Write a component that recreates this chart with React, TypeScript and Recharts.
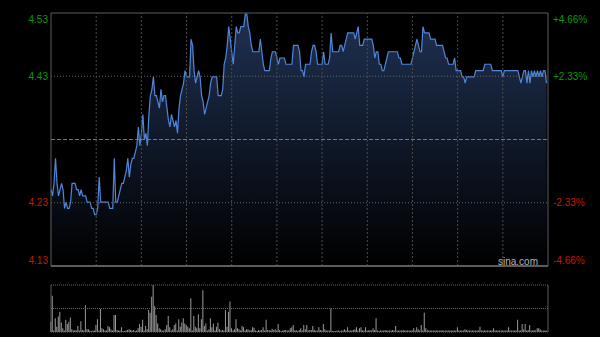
import React from "react";
import {
  ComposedChart,
  Area,
  Bar,
  XAxis,
  YAxis,
  ReferenceLine,
} from "recharts";

// previous close and the symmetric percent levels shown on the axes
const prevClose = 4.33;
const pctLevels = [-4.66, -2.33, 2.33, 4.66];
// half-hour grid (minutes from open, HK session 330 min)
const halfHourMarks = [30, 60, 90, 120, 150, 180, 210, 240, 270, 300];

const morningPrices = [
  4.25, 4.24, 4.26, 4.3, 4.26, 4.24, 4.25, 4.26, 4.25, 4.22,
  4.23, 4.22, 4.22, 4.23, 4.26, 4.26, 4.26, 4.25, 4.25, 4.24,
  4.25, 4.24, 4.24, 4.24, 4.23, 4.23, 4.23, 4.22, 4.22, 4.21,
  4.21, 4.22, 4.27, 4.23, 4.23, 4.23, 4.23, 4.23, 4.23, 4.22,
  4.22, 4.22, 4.3, 4.23, 4.23, 4.24, 4.25, 4.26, 4.26, 4.27,
  4.28, 4.3, 4.27, 4.29, 4.3, 4.3, 4.31, 4.32, 4.35, 4.32,
  4.34, 4.37, 4.33, 4.34, 4.32, 4.37, 4.4, 4.41, 4.43, 4.4,
  4.4, 4.39, 4.38, 4.41, 4.39, 4.4, 4.4, 4.38, 4.36, 4.35,
  4.37, 4.36, 4.35, 4.36, 4.34, 4.38, 4.4, 4.41, 4.42, 4.44,
  4.43, 4.43, 4.43, 4.49, 4.48, 4.44, 4.42, 4.43, 4.44, 4.43,
  4.4, 4.39, 4.37, 4.38, 4.39, 4.4, 4.42, 4.43, 4.43, 4.43,
  4.43, 4.4, 4.4, 4.4, 4.41, 4.45, 4.46, 4.48, 4.51, 4.49,
  4.47, 4.45, 4.48, 4.51, 4.5, 4.5, 4.51, 4.51, 4.51, 4.53,
  4.53, 4.51, 4.5, 4.48, 4.47, 4.47, 4.47, 4.47, 4.47, 4.49,
  4.47, 4.45, 4.44, 4.44, 4.44, 4.44, 4.46, 4.47, 4.47, 4.47,
];

const afternoonPrices = [
  4.46, 4.45, 4.46, 4.46, 4.46, 4.46, 4.45, 4.45, 4.45, 4.45,
  4.45, 4.48, 4.48, 4.48, 4.48, 4.47, 4.44, 4.44, 4.43, 4.45,
  4.45, 4.45, 4.45, 4.47, 4.48, 4.48, 4.47, 4.45, 4.45, 4.45,
  4.45, 4.47, 4.45, 4.45, 4.45, 4.46, 4.5, 4.47, 4.47, 4.47,
  4.47, 4.47, 4.48, 4.48, 4.47, 4.48, 4.49, 4.5, 4.5, 4.5,
  4.5, 4.5, 4.49, 4.5, 4.51, 4.48, 4.48, 4.48, 4.49, 4.49,
  4.49, 4.49, 4.49, 4.49, 4.48, 4.46, 4.47, 4.47, 4.45, 4.45,
  4.44, 4.44, 4.45, 4.46, 4.47, 4.47, 4.47, 4.47, 4.47, 4.47,
  4.47, 4.46, 4.46, 4.45, 4.45, 4.45, 4.45, 4.45, 4.45, 4.45,
  4.46, 4.47, 4.48, 4.49, 4.48, 4.47, 4.47, 4.51, 4.5, 4.5,
  4.5, 4.5, 4.49, 4.49, 4.49, 4.49, 4.48, 4.48, 4.48, 4.48,
  4.48, 4.47, 4.46, 4.46, 4.45, 4.45, 4.45, 4.45, 4.46, 4.44,
  4.44, 4.44, 4.44, 4.43, 4.43, 4.42, 4.43, 4.43, 4.43, 4.43,
  4.43, 4.43, 4.44, 4.44, 4.44, 4.44, 4.44, 4.44, 4.45, 4.45,
  4.45, 4.45, 4.45, 4.44, 4.44, 4.44, 4.44, 4.44, 4.44, 4.44,
  4.43, 4.44, 4.44, 4.44, 4.44, 4.44, 4.44, 4.44, 4.44, 4.44,
  4.44, 4.43, 4.42, 4.43, 4.44, 4.44, 4.42, 4.44, 4.42, 4.44,
  4.43, 4.44, 4.43, 4.44, 4.43, 4.44, 4.43, 4.44, 4.44, 4.42,
];

// volume in relative units (peak = 100)
const morningVolumes = [
  22, 77, 3, 29, 11, 33, 43, 20, 8, 3,
  26, 17, 22, 31, 6, 3, 4, 3, 13, 3,
  23, 4, 3, 57, 6, 6, 3, 2, 3, 3,
  15, 27, 3, 49, 8, 6, 3, 3, 13, 10,
  6, 3, 36, 36, 4, 3, 3, 10, 2, 2,
  3, 4, 6, 4, 3, 4, 2, 3, 8, 17,
  11, 26, 3, 13, 6, 47, 41, 75, 100, 55,
  36, 18, 8, 6, 3, 3, 6, 15, 34, 10,
  3, 6, 15, 18, 3, 27, 11, 20, 29, 18,
  15, 11, 8, 72, 3, 34, 11, 8, 38, 8,
  27, 89, 13, 18, 3, 6, 29, 10, 18, 3,
  11, 20, 6, 3, 4, 3, 47, 11, 43, 65,
  8, 3, 6, 27, 8, 6, 3, 13, 10, 3,
  6, 6, 3, 4, 10, 9, 3, 2, 4, 3,
  4, 10, 3, 26, 4, 4, 3, 7, 4, 6,
];

const afternoonVolumes = [
  3, 17, 4, 2, 3, 4, 4, 3, 3, 8,
  10, 15, 3, 4, 2, 4, 8, 3, 15, 6,
  15, 3, 4, 4, 13, 4, 3, 3, 10, 4,
  3, 17, 6, 3, 3, 3, 50, 2, 2, 2,
  3, 3, 2, 3, 3, 6, 3, 10, 3, 3,
  3, 4, 6, 10, 3, 8, 10, 3, 3, 10,
  3, 3, 4, 3, 8, 4, 29, 3, 2, 3,
  3, 3, 4, 3, 3, 3, 3, 4, 3, 13,
  3, 3, 3, 3, 4, 3, 3, 3, 3, 3,
  3, 8, 3, 10, 6, 3, 15, 3, 41, 8,
  4, 3, 3, 3, 3, 3, 3, 3, 3, 3,
  3, 3, 3, 3, 3, 3, 3, 3, 3, 3,
  10, 3, 3, 3, 3, 6, 4, 3, 3, 3,
  3, 3, 3, 3, 3, 11, 3, 3, 3, 3,
  3, 3, 3, 3, 8, 3, 3, 3, 3, 3,
  3, 3, 3, 3, 10, 3, 3, 3, 3, 3,
  26, 3, 3, 17, 6, 17, 3, 4, 15, 3,
  3, 4, 3, 8, 8, 6, 3, 3, 3, 3,
];

const prices = [...morningPrices, ...afternoonPrices];
const volumes = [...morningVolumes, ...afternoonVolumes];
const data = prices.map((price, i) => ({
  minute: i,
  price,
  volume: volumes[i],
}));

const SESSION = 330;
const maxPct = pctLevels[pctLevels.length - 1];
const yMin = prevClose * (1 - maxPct / 100);
const yMax = prevClose * (1 + maxPct / 100);
const levelTicks = pctLevels.map((p) => prevClose * (1 + p / 100));

const FONT = "Arial, 'Liberation Sans', sans-serif";
const UP = "#0a9a0a";
const DOWN = "#cc1500";
const GRID = "#4c4c4c";
const FRAME = "#5c5c5c";

function tickShift(pct: number) {
  if (pct > maxPct - 0.5) return 6;
  if (pct < -maxPct + 0.5) return -6;
  return 0;
}

function PriceTick(props: any) {
  const { x, y, payload } = props;
  const pct = (payload.value / prevClose - 1) * 100;
  return (
    <text
      x={x}
      y={y + tickShift(pct)}
      textAnchor="end"
      dominantBaseline="central"
      fill={pct > 0 ? UP : DOWN}
      fontSize={10}
      fontFamily={FONT}
    >
      {payload.value.toFixed(2)}
    </text>
  );
}

function PctTick(props: any) {
  const { x, y, payload } = props;
  const pct = (payload.value / prevClose - 1) * 100;
  return (
    <text
      x={x}
      y={y + tickShift(pct)}
      textAnchor="start"
      dominantBaseline="central"
      fill={pct > 0 ? UP : DOWN}
      fontSize={10}
      fontFamily={FONT}
    >
      {(pct > 0 ? "+" : "") + pct.toFixed(2) + "%"}
    </text>
  );
}

export default function App() {
  return (
    <div
      style={{
        position: "absolute",
        left: 0,
        top: 0,
        width: 600,
        height: 337,
        background: "#000",
        overflow: "hidden",
      }}
    >
      <ComposedChart
        width={600}
        height={280}
        data={data}
        margin={{ top: 13, right: 0, bottom: 14, left: 0 }}
      >
        <defs>
          <linearGradient id="priceFill" x1="0" y1="0" x2="0" y2="1">
            <stop offset="0%" stopColor="#1f3152" />
            <stop offset="100%" stopColor="#000000" />
          </linearGradient>
        </defs>
        <XAxis dataKey="minute" type="number" domain={[0, SESSION]} hide />
        <YAxis
          yAxisId="price"
          domain={[yMin, yMax]}
          ticks={levelTicks}
          interval={0}
          width={51}
          tickSize={0}
          tickMargin={3}
          axisLine={false}
          tick={PriceTick}
          allowDataOverflow
        />
        <YAxis
          yAxisId="pct"
          orientation="right"
          domain={[yMin, yMax]}
          ticks={levelTicks}
          interval={0}
          width={52}
          tickSize={0}
          tickMargin={5}
          axisLine={false}
          tick={PctTick}
          allowDataOverflow
        />
        {levelTicks
          .filter((v) => Math.abs(v / prevClose - 1) * 100 < maxPct - 0.5)
          .map((v) => (
            <ReferenceLine
              key={"h" + v}
              yAxisId="price"
              y={v}
              stroke="#666"
              strokeDasharray="1 2"
            />
          ))}
        <ReferenceLine
          yAxisId="price"
          y={prevClose}
          stroke="#777"
          strokeDasharray="4 2"
        />
        {halfHourMarks.map((m) => (
          <ReferenceLine
            key={"v" + m}
            yAxisId="price"
            x={m}
            stroke={GRID}
            strokeDasharray="2 2"
          />
        ))}
        <Area
          yAxisId="price"
          type="linear"
          dataKey="price"
          stroke="#4f86d8"
          strokeWidth={1.2}
          fill="url(#priceFill)"
          fillOpacity={1}
          dot={false}
          activeDot={false}
          isAnimationActive={false}
        />
        <ReferenceLine yAxisId="price" y={yMax} stroke={FRAME} />
        <ReferenceLine yAxisId="price" y={yMin} stroke={FRAME} strokeWidth={2} />
        <ReferenceLine yAxisId="price" x={0} stroke={FRAME} />
        <ReferenceLine yAxisId="price" x={SESSION} stroke={FRAME} />
      </ComposedChart>
      <div
        style={{
          position: "absolute",
          left: 460,
          width: 78,
          top: 256,
          lineHeight: "12px",
          textAlign: "right",
          fontSize: 10,
          fontFamily: FONT,
          color: "#b4b4b4",
        }}
      >
        sina.com
      </div>
      <div style={{ position: "absolute", left: 0, top: 270 }}>
        <ComposedChart
          width={600}
          height={67}
          data={data}
          margin={{ top: 15, right: 52, bottom: 5, left: 51 }}
        >
          <XAxis dataKey="minute" type="number" domain={[0, SESSION]} hide />
          <YAxis domain={[0, 100]} hide allowDataOverflow />
          <ReferenceLine y={100} stroke="#666" strokeDasharray="1 1" />
          <ReferenceLine y={50} stroke="#666" strokeDasharray="1 1" />
          <Bar
            dataKey="volume"
            fill="#9a9a9a"
            barSize={1}
            isAnimationActive={false}
          />
          <ReferenceLine y={0} stroke="#666" strokeDasharray="1 1" />
          <ReferenceLine x={0} stroke={FRAME} />
          <ReferenceLine x={SESSION} stroke={FRAME} />
        </ComposedChart>
      </div>
    </div>
  );
}
